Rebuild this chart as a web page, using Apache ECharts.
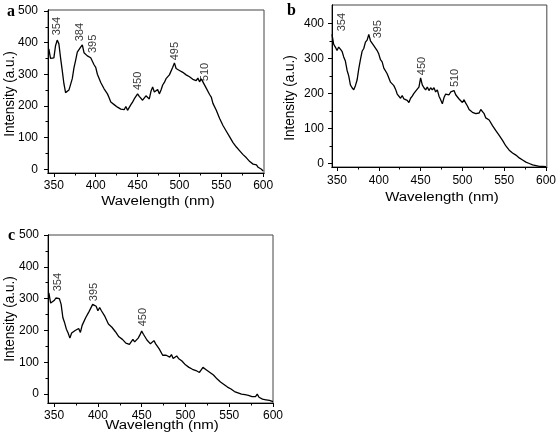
<!DOCTYPE html>
<html>
<head>
<meta charset="utf-8">
<script src="https://cdn.jsdelivr.net/npm/echarts@6/dist/echarts.min.js"></script>
<style>html,body{margin:0;padding:0;background:#fff}#c{width:559px;height:442px}</style>
</head>
<body>
<div id="c"></div>
<script>
const wavelength = [344,346,348,350,352,354,356,358,360,362,364,366,368,370,372,374,376,378,380,382,384,386,388,390,392,394,396,398,400,402,404,406,408,410,412,414,416,418,420,422,424,426,428,430,432,434,436,438,440,442,444,446,448,450,452,454,456,458,460,462,464,466,468,470,472,474,476,478,480,482,484,486,488,490,492,494,496,498,500,502,504,506,508,510,512,514,516,518,520,522,524,526,528,530,532,534,536,538,540,542,544,546,548,550,552,554,556,558,560,562,564,566,568,570,572,574,576,578,580,582,584,586,588,590,592,594,596,598,600];

const intensityA = [380,350,346,352,390,408,396,352,312,270,242,236,250,256,286,320,344,370,374,386,393,368,366,358,362,352,346,330,322,300,296,274,268,254,256,238,226,212,214,204,202,196,198,190,196,188,198,186,184,204,212,222,226,238,230,232,218,222,232,226,222,246,260,244,240,252,238,250,266,274,286,280,298,296,322,336,318,316,312,314,306,310,298,304,292,296,284,290,280,288,276,286,276,270,256,252,236,228,208,204,186,180,160,156,138,136,120,116,102,98,84,80,70,70,58,56,46,46,36,36,24,24,16,14,14,6,6,0,-6];

const intensityB = [368,340,332,322,332,326,320,304,292,266,250,224,216,210,222,238,270,296,320,328,346,352,368,350,346,336,340,322,312,296,290,272,276,256,252,232,236,222,212,198,196,186,194,184,188,180,174,186,192,200,202,212,218,244,224,216,210,218,208,216,210,216,204,210,192,182,170,188,198,200,196,204,200,208,196,194,184,180,174,182,172,164,154,156,146,150,142,146,144,154,148,142,130,134,124,122,108,106,94,94,80,78,66,64,50,50,38,38,30,30,24,24,16,18,10,12,4,6,0,2,-4,-2,-6,-4,-8,-6,-8,-9,-9];

const intensityC = [318,286,288,294,302,308,300,282,240,224,204,192,176,192,190,200,202,206,194,216,222,240,244,260,264,282,284,276,262,272,262,258,244,238,220,220,210,206,196,190,180,182,172,172,160,162,156,162,172,164,160,176,186,198,188,184,170,170,158,162,168,158,154,142,138,122,116,122,126,116,124,112,116,120,112,116,104,102,92,98,84,90,78,82,74,76,68,74,84,84,76,76,68,68,60,58,48,46,38,38,30,30,22,24,16,16,8,10,4,6,0,4,-2,0,-4,-2,-8,-2,-8,0,-10,-12,-16,-12,-18,-14,-20,-18,-24];

const xMajor = [350,400,450,500,550,600];
const xMinor = [375,425,475,525,575];
const yMajorAC = [0,100,200,300,400,500];
const yMinorAC = [50,150,250,350,450];
const yMajorB = [0,100,200,300,400];
const yMinorB = [50,150,250,350];

const peakTextA = ['354','384','395','450','495','510'];
const peakPosA = [[354.3,452],[381.2,433],[396.2,396],[449.9,279],[494.7,373],[530.5,307]];
const peakTextB = ['354','395','450','510'];
const peakPosB = [[355.9,403],[398.7,383],[451.1,278],[491.5,244]];
const peakTextC = ['354','395','450'];
const peakPosC = [[354.4,352],[395.5,321],[451.5,242]];

const FONT = 'Liberation Sans, Arial, sans-serif';

function mainX(g, min, max, margin) {
  return {type:'value', gridIndex:g, min, max, position:'bottom',
    axisLine:{show:true, onZero:false, lineStyle:{color:'#000', width:1}},
    axisTick:{show:true, inside:false, length:4, customValues:xMajor, lineStyle:{color:'#000'}},
    axisLabel:{show:true, customValues:xMajor, margin, fontSize:12, color:'#000', fontFamily:FONT},
    splitLine:{show:false}};
}
function minorX(g, min, max) {
  return {type:'value', gridIndex:g, min, max, position:'bottom',
    axisLine:{show:true, onZero:false, lineStyle:{color:'#000', width:1}},
    axisTick:{show:true, inside:false, length:2.5, customValues:xMinor, lineStyle:{color:'#000'}},
    axisLabel:{show:false}, splitLine:{show:false}};
}
function mainY(g, min, max, major, margin) {
  return {type:'value', gridIndex:g, min, max, position:'left',
    axisLine:{show:true, onZero:false, lineStyle:{color:'#000', width:1}},
    axisTick:{show:true, inside:false, length:4, customValues:major, lineStyle:{color:'#000'}},
    axisLabel:{show:true, customValues:major, margin, fontSize:12, color:'#000', fontFamily:FONT},
    splitLine:{show:false}};
}
function minorY(g, min, max, minor) {
  return {type:'value', gridIndex:g, min, max, position:'left',
    axisLine:{show:true, onZero:false, lineStyle:{color:'#000', width:1}},
    axisTick:{show:true, inside:false, length:2.5, customValues:minor, lineStyle:{color:'#000'}},
    axisLabel:{show:false}, splitLine:{show:false}};
}
function lineSeries(xi, yi, vals) {
  return {type:'line', xAxisIndex:xi, yAxisIndex:yi, data: wavelength.map((w,i)=>[w, vals[i]]),
    showSymbol:false, symbol:'none', lineStyle:{color:'#000', width:1.3}, silent:true, z:3};
}
function peakSeries(xi, yi, pos, txt) {
  return {type:'scatter', xAxisIndex:xi, yAxisIndex:yi, symbolSize:1, itemStyle:{color:'rgba(0,0,0,0)'},
    data: pos.map((p,i)=>({value:p, name:txt[i]})), silent:true, z:5,
    label:{show:true, position:'inside', rotate:90, formatter:'{b}', fontSize:11, color:'#000', fontFamily:FONT}};
}
function xTitle(x, y, text) {
  return {type:'text', x, y, scaleY:0.82, style:{text, font:'15px ' + FONT, fill:'#000', textAlign:'center', textVerticalAlign:'middle'}};
}
function yTitle(x, y, text) {
  return {type:'text', x, y, rotation:Math.PI/2, scaleX:0.9, style:{text, font:'15px ' + FONT, fill:'#000', textAlign:'center', textVerticalAlign:'middle'}};
}
function letter(x, y, text) {
  return {type:'text', x, y, style:{text, font:'bold 16px Liberation Serif, Times New Roman, serif', fill:'#000', textAlign:'left', textVerticalAlign:'middle'}};
}

const chart = echarts.init(document.getElementById('c'), null, {renderer:'canvas'});
chart.setOption({
  animation:false,
  backgroundColor:'#fff',
  grid:[
    {left:48, top:10, width:216, height:163, show:true, borderColor:'#444', borderWidth:1, containLabel:false},
    {left:332, top:5, width:216, height:162, show:true, borderColor:'#444', borderWidth:1, containLabel:false},
    {left:48, top:235, width:225, height:168, show:true, borderColor:'#444', borderWidth:1, containLabel:false}
  ],
  xAxis:[
    mainX(0,343,601,7), minorX(0,343,601),
    mainX(1,344,601,8), minorX(1,344,601),
    mainX(2,343,600,7), minorX(2,343,600)
  ],
  yAxis:[
    mainY(0,-12,503,yMajorAC,10), minorY(0,-12,503,yMinorAC),
    mainY(1,-10,452,yMajorB,8), minorY(1,-10,452,yMinorB),
    mainY(2,-28,500,yMajorAC,9), minorY(2,-28,500,yMinorAC)
  ],
  series:[
    lineSeries(0,0,intensityA), peakSeries(0,0,peakPosA,peakTextA),
    lineSeries(2,2,intensityB), peakSeries(2,2,peakPosB,peakTextB),
    lineSeries(4,4,intensityC), peakSeries(4,4,peakPosC,peakTextC)
  ],
  graphic:[
    letter(7,11.5,'a'), letter(287,10.5,'b'), letter(8,236,'c'),
    xTitle(158,202,'Wavelength (nm)'), xTitle(442,198,'Wavelength (nm)'), xTitle(162,426,'Wavelength (nm)'),
    yTitle(9.5,94,'Intensity (a.u.)'), yTitle(289.5,98,'Intensity (a.u.)'), yTitle(9.5,319,'Intensity (a.u.)')
  ]
});
</script>
</body>
</html>
